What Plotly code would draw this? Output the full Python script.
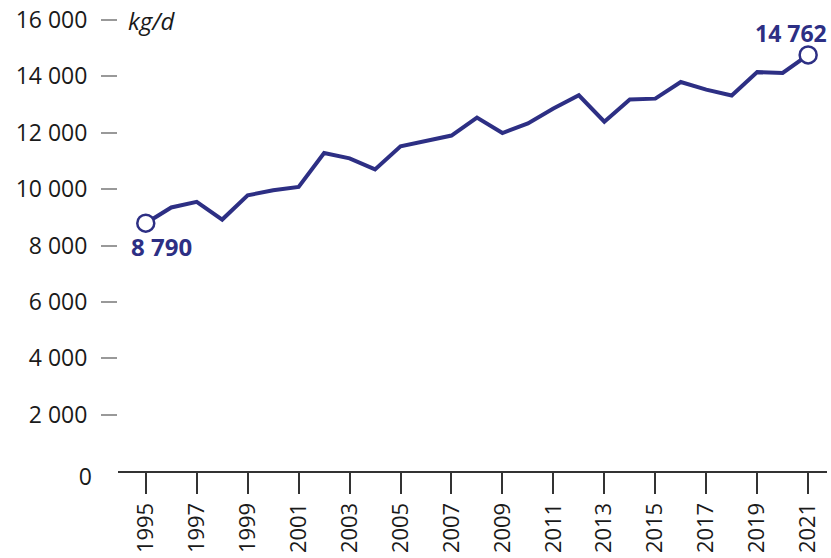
import plotly.graph_objects as go

years = list(range(1995, 2022))
values = [8790, 9350, 9550, 8920, 9780, 9960, 10080, 11280, 11090, 10700,
          11520, 11710, 11900, 12540, 11990, 12330, 12860, 13330, 12390, 13180,
          13210, 13800, 13530, 13320, 14150, 14120, 14762]

y_tickvals = [2000, 4000, 6000, 8000, 10000, 12000, 14000, 16000]
y_ticktext = ["2 000", "4 000", "6 000", "8 000", "10 000", "12 000", "14 000", "16 000"]
x_tickvals = list(range(1995, 2022, 2))
x_ticktext = [str(v) for v in x_tickvals]
unit_label = "kg/d"
start_label = "8 790"
end_label = "14 762"

NAVY = "#2d2f84"
FONT = "Open Sans"
TXT = "#1a1a1a"

fig = go.Figure()
fig.add_trace(go.Scatter(
    x=years, y=values, mode="lines",
    line=dict(color=NAVY, width=4), hoverinfo="skip", showlegend=False))
fig.add_trace(go.Scatter(
    x=[years[0], years[-1]], y=[values[0], values[-1]], mode="markers",
    marker=dict(size=17, color="white", line=dict(color=NAVY, width=2.5)),
    hoverinfo="skip", showlegend=False, cliponaxis=False))
fig.add_trace(go.Scatter(
    x=years, y=values, mode="lines", yaxis="y2",
    line=dict(color="rgba(0,0,0,0)", width=0), hoverinfo="skip", showlegend=False))

fig.update_layout(
    width=831, height=558,
    margin=dict(l=118, r=4, t=20, b=87, autoexpand=False),
    paper_bgcolor="white", plot_bgcolor="white",
    font=dict(family=FONT, size=23, color=TXT),
    xaxis=dict(range=[1993.91, 2021.74], tickvals=x_tickvals, ticktext=x_ticktext,
               tickangle=-90, ticks="outside", ticklen=21, tickwidth=2, tickcolor="#333",
               showline=True, linecolor="#333", linewidth=2, showgrid=False, zeroline=False,
               automargin=False,
               ticklabelstandoff=0, tickfont=dict(family=FONT, size=22, color=TXT)),
    yaxis=dict(range=[0, 16000], tickvals=y_tickvals, ticktext=y_ticktext,
               ticks="outside", ticklen=16, tickwidth=1.5, tickcolor="#999",
               showline=False, showgrid=False, zeroline=False, automargin=False,
               ticklabelstandoff=9, tickfont=dict(family=FONT, size=23, color=TXT)),
    yaxis2=dict(range=[0, 16000], overlaying="y", side="left", tickvals=[0], ticktext=["0"],
                ticks="", showline=False, showgrid=False, zeroline=False, automargin=False,
                ticklabelstandoff=25, ticklabelshift=6,
                tickfont=dict(family=FONT, size=23, color=TXT)),
    annotations=[
        dict(x=0, xref="paper", y=16000, yref="y", text=unit_label, showarrow=False,
             xanchor="left", yanchor="middle", xshift=8,
             font=dict(family=FONT, size=24, color=TXT, style="italic")),
        dict(x=years[-1], y=values[-1], xref="x", yref="y", text="<b>" + end_label + "</b>",
             showarrow=False, xanchor="right", yanchor="bottom", xshift=21, yshift=4,
             font=dict(family=FONT, size=23, color=NAVY)),
        dict(x=years[0], y=values[0], xref="x", yref="y", text="<b>" + start_label + "</b>",
             showarrow=False, xanchor="left", yanchor="top", xshift=-17, yshift=-5,
             font=dict(family=FONT, size=24, color=NAVY)),
    ],
)

fig.write_html("out.html", config={"displayModeBar": False},
               post_script="document.body.style.margin='0';document.body.style.overflow='hidden';")
